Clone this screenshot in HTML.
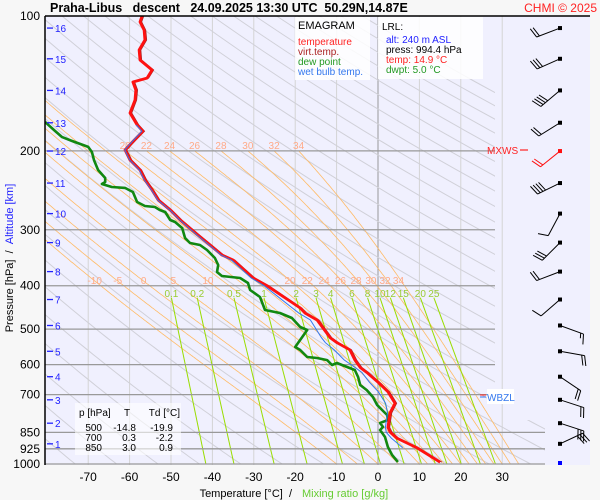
<!DOCTYPE html>
<html><head><meta charset="utf-8"><style>
body{margin:0;background:#f7f7f7;}
svg{display:block;font-family:"Liberation Sans",sans-serif;}
</style></head><body>
<svg id="c" width="600" height="500" viewBox="0 0 600 500">
<defs>
<clipPath id="plotClip"><path d="M45 16 H495 V420 H545 V465 H45 Z"/></clipPath>
<clipPath id="plotClip2"><rect x="45" y="16" width="500" height="449"/></clipPath>
</defs>
<rect x="45" y="16" width="545" height="449" fill="#f0f0fe"/>
<g id="grid"></g>
<g id="series"></g>
<g id="barbs"></g>
<line x1="45" y1="16" x2="45" y2="465" stroke="#000" stroke-width="1.5"/>
<line x1="45" y1="16" x2="590" y2="16" stroke="#000" stroke-width="1.5"/>
<text x="50" y="12" font-size="12.5" font-weight="bold">Praha-Libus&#160;&#160;&#160;descent&#160;&#160;&#160;24.09.2025 13:30 UTC&#160;&#160;50.29N,14.87E</text>
<text x="597" y="12" font-size="12" fill="#ff2222" text-anchor="end">CHMI © 2025</text>
<g>
<rect x="295" y="17" width="75" height="63" fill="#fff" opacity="0.85"/>
<text x="298" y="29" font-size="11">EMAGRAM</text>
<text x="298" y="45" font-size="10" fill="#ff2222">temperature</text>
<text x="298" y="55" font-size="10" fill="#aa2222">virt.temp.</text>
<text x="298" y="65" font-size="10" fill="#229922">dew point</text>
<text x="298" y="75" font-size="10" fill="#3377ee">wet bulb temp.</text>
</g>
<g>
<rect x="378" y="17" width="105" height="62" fill="#fff" opacity="0.85"/>
<text x="382" y="30" font-size="10">LRL:</text>
<text x="386" y="43" font-size="10" fill="#2222ff">alt: 240 m ASL</text>
<text x="386" y="53" font-size="10">press: 994.4 hPa</text>
<text x="386" y="63" font-size="10" fill="#ff2222">temp: 14.9 °C</text>
<text x="386" y="73" font-size="10" fill="#229922">dwpt: 5.0 °C</text>
</g>
<g>
<rect x="75" y="403" width="106" height="52" fill="#fff" opacity="0.6"/>
<text x="79" y="416" font-size="10">p [hPa]</text><text x="127" y="416" font-size="10" text-anchor="middle">T</text><text x="180" y="416" font-size="10" text-anchor="end">Td [°C]</text>
<text x="102" y="431" font-size="10" text-anchor="end">500</text><text x="136" y="431" font-size="10" text-anchor="end">-14.8</text><text x="173" y="431" font-size="10" text-anchor="end">-19.9</text>
<text x="102" y="441" font-size="10" text-anchor="end">700</text><text x="136" y="441" font-size="10" text-anchor="end">0.3</text><text x="173" y="441" font-size="10" text-anchor="end">-2.2</text>
<text x="102" y="451" font-size="10" text-anchor="end">850</text><text x="136" y="451" font-size="10" text-anchor="end">3.0</text><text x="173" y="451" font-size="10" text-anchor="end">0.9</text>
</g>
<text x="487" y="154" font-size="10" fill="#ff2222">MXWS</text>
<line x1="520" y1="150" x2="528" y2="150" stroke="#ff2222" stroke-width="1.2"/>
<g>
<rect x="487" y="389" width="27" height="15" fill="#fff"/>
<line x1="480" y1="395" x2="486" y2="395" stroke="#ff2222"/><line x1="480" y1="397" x2="486" y2="397" stroke="#3377ee"/>
<text x="487" y="401" font-size="10" fill="#3377ee">WBZL</text>
</g>
<text x="13" y="258" font-size="11" text-anchor="middle" transform="rotate(-90 13 258)">Pressure [hPa]&#160;&#160;/&#160;&#160;<tspan fill="#2222ff">Altitude [km]</tspan></text>
<text x="292" y="497" font-size="11" text-anchor="end">Temperature [°C]&#160;&#160;/</text>
<text x="302" y="497" font-size="11" fill="#66cc33">Mixing ratio [g/kg]</text>
<g id="axes"></g>
</svg>
<script>
// ---- data ----
const pressureTicks=[100,200,300,400,500,600,700,850,925,1000];
const tempTicks=[-70,-60,-50,-40,-30,-20,-10,0,10,20,30];
const altKm=[16,15,14,13,12,11,10,9,8,7,6,5,4,3,2,1];
const altP=[106.4,124.6,146.6,173.1,200.2,236,276.1,320.5,372,429.4,490.7,560.3,638.5,719,810.8,901.5];
const mixRatios=[0.1,0.2,0.5,1,2,3,4,6,8,10,12,15,20,25];
const thetaW=[-10,-5,0,5,10,12,14,16,18,20,22,24,26,28,30,32,34];
const thetaWLabels400=[-10,-5,0,5,10,20,22,24,26,28,30,32,34];
const thetaWLabels200=[20,22,24,26,28,30,32,34];
const tempP=[100,103.1,107.5,113.1,119.1,125.4,132,137.6,140.4,146.3,154,164.6,175,180.8,189.2,199,209.6,220.7,232.3,244.6,257.5,271,285.3,308.3,324.5,341.6,350.5,384.2,400,448.6,460.7,477,522.3,536,556,585.5,609,624.7,656.6,690,732,769,828,850,876,920,991];
const tempT=[-57,-57.5,-56.5,-56.3,-57.7,-57.5,-54.6,-55.8,-59.2,-58.5,-58.7,-59.9,-58.2,-56.8,-58.9,-61.1,-59.9,-57.5,-56.3,-54.6,-53.1,-50.2,-47.8,-43.5,-40.6,-37.7,-35,-30.2,-26.8,-18.8,-17.6,-14.7,-11.6,-9.9,-6.8,-5.6,-4.3,-2.7,0,2.4,4.1,2.9,2.4,3,4.6,9.4,15];
const dewP=[172.4,180.6,186.3,190.1,196,201.2,209.7,220.7,229.9,234.7,237.1,240.8,242,247.1,253.5,260.1,265.5,266.9,271,273.9,285.4,288.3,297.4,313.1,321.2,324.5,332.9,346.9,359.6,372.8,380.5,384.5,394.5,408.9,423.9,453.1,460.2,472.2,494.6,502.2,548,556.7,577.1,580.1,586.1,601.2,595,601.2,617,639.6,666.4,683.9,708.9,738.7,757.8,777.5,797.7,810.2,827,839.8,870.5,916.2,954.7,989.7];
const dewT=[-80.4,-78,-76.3,-73.9,-70,-69.1,-68.6,-67.6,-65.9,-65.9,-66.7,-64.3,-61.1,-59.2,-58.7,-58.2,-56.3,-53.9,-52.7,-51.4,-50.2,-49,-47.3,-46.6,-45.4,-43,-41.3,-39.4,-38.6,-38.9,-37.7,-33.3,-31.4,-30.9,-28.5,-27.3,-23.7,-20.8,-18.8,-17.1,-20,-18.8,-17.1,-14.7,-12.3,-11.1,-9.9,-8.7,-5.6,-4.8,-4.3,-2.7,-1.2,-0.2,1,2.2,2.4,0.5,1.2,0.5,1.7,2.4,3.4,4.8];
const windDir=[249,246,230,238,231,244,208,225,249,229,110,100,124,108,108,65];
const windKt=[20,30,40,20,20,40,10,30,20,10,15,20,20,20,30,30];

// ---- scales ----
const X0=378,KX=4.14;
function xT(t){return X0+KX*t;}
function yP(p){return 16+448*Math.log10(p/100);}
const NS='http://www.w3.org/2000/svg';
function mk(tag,attrs,parent){const e=document.createElementNS(NS,tag);for(const k in attrs)e.setAttribute(k,attrs[k]);parent.appendChild(e);return e;}
const grid=document.getElementById('grid'),series=document.getElementById('series'),axes=document.getElementById('axes'),barbs=document.getElementById('barbs');
function es(T){return 6.112*Math.exp(17.67*T/(T+243.5));}
function ws(T,p){const e=es(T);return 0.622*e/(p-e);}

tempTicks.forEach(t=>{
  const l=mk('line',{x1:xT(t),x2:xT(t),y1:16,y2:465,stroke:t===0?'#999':'#d4d4d4','stroke-width':1},grid);
  
  
  const tx=mk('text',{x:xT(t),y:481,'font-size':12,'text-anchor':'middle'},axes);tx.textContent=t;
  
  
});
const gDry=mk('g',{'clip-path':'url(#plotClip)'},grid);


for(let th=190;th<=520;th+=10){
  let d='';for(let p=1000;p>=100;p-=10){const T=th*Math.pow(p/1000,0.2857)-273.15;d+=(d?'L':'M')+xT(T).toFixed(1)+' '+yP(p).toFixed(1);}
  mk('path',{d:d,fill:'none',stroke:'#d0d0d8','stroke-width':1},gDry);
}
const gMoist=mk('g',{'clip-path':'url(#plotClip)'},grid);


function moist(tw){const pts=[];let T=tw+273.15;const pEnd=tw>=20?200:100;for(let p=1000;p>=pEnd;p-=2){pts.push([p,T-273.15]);const w=ws(T-273.15,p);const dTdp=(287*T+2.5e6*w)/(p*(1005+2.5e6*2.5e6*w*0.622/(287*T*T)));T-=dTdp*2;}return pts;}
function atP(pts,p){for(const q of pts){if(q[0]<=p)return q[1];}return pts[pts.length-1][1];}
const moistCurves={};
thetaW.forEach(tw=>{const pts=moist(tw);moistCurves[tw]=pts;
  mk('path',{d:pts.map((q,i)=>(i?'L':'M')+xT(q[1]).toFixed(1)+' '+yP(q[0]).toFixed(1)).join(''),fill:'none',stroke:'#ffbb66','stroke-width':0.8},gMoist);});
thetaWLabels400.forEach(tw=>{const t=mk('text',{x:xT(atP(moistCurves[tw],400))-6,y:284,'font-size':10,fill:'#ffaa88','text-anchor':'middle'},grid);t.textContent=tw;
  
  });
thetaWLabels200.forEach(tw=>{const t=mk('text',{x:xT(atP(moistCurves[tw],200)),y:149,'font-size':10,fill:'#ffaa88','text-anchor':'middle'},grid);t.textContent=tw;
  
  });
function tdW(w,p){const e=w*p/(622+w);const l=Math.log(e/6.112);return 243.5*l/(17.67-l);}
mixRatios.forEach(w=>{
  const l=mk('line',{x1:xT(tdW(w,400)),y1:yP(400)+12,x2:xT(tdW(w,1000)),y2:yP(1000),stroke:'#99dd00','stroke-width':1},grid);
  
  
  const t=mk('text',{x:xT(tdW(w,400)),y:297,'font-size':10,fill:'#99cc33','text-anchor':'middle'},grid);t.textContent=w;
  
  
});
pressureTicks.forEach(p=>{
  if(p>100){const l=mk('line',{x1:45,x2:p>=850?545:495,y1:yP(p),y2:yP(p),stroke:'#999','stroke-width':1.3},grid);
  
  }
  const t=mk('text',{x:40,y:yP(p)+4,'font-size':12,'text-anchor':'end'},axes);t.textContent=p;
  
  
});
altKm.forEach((k,i)=>{const y=yP(altP[i]);
  mk('line',{x1:47,x2:53,y1:y,y2:y,stroke:'#2222ff','stroke-width':1.3},axes);
  const t=mk('text',{x:55,y:y+4,'font-size':10,fill:'#2222ff'},axes);t.textContent=k;
  
  });
function pathOf(P,T){return P.map((p,i)=>(i?'L':'M')+xT(T[i]).toFixed(1)+' '+yP(p).toFixed(1)).join('');}
const gS=mk('g',{'clip-path':'url(#plotClip2)'},series);
function tdAt(p){for(let i=0;i<dewP.length-1;i++){const a=dewP[i],b=dewP[i+1];if((p>=a&&p<=b)||(p<=a&&p>=b)){const f=(Math.log(p)-Math.log(a))/(Math.log(b)-Math.log(a)||1);return dewT[i]+f*(dewT[i+1]-dewT[i]);}}return null;}
const wbP=[],wbT=[];
tempP.forEach((p,i)=>{const td=tdAt(p);const T=tempT[i];if(td===null)return;const w=ws(td,p);let lo=Math.min(td,T),hi=T;
  for(let k=0;k<40;k++){const m=(lo+hi)/2;const f=1005*(T-m)-2.5e6*(ws(m,p)-w);if(f>0)lo=m;else hi=m;}wbP.push(p);wbT.push((lo+hi)/2);});
const dew=mk('path',{d:pathOf(dewP,dewT),fill:'none',stroke:'#118811','stroke-width':2.6,'stroke-linejoin':'round'},gS);


const vt=mk('path',{d:pathOf(tempP,tempT.map(t=>t+0.4)),fill:'none',stroke:'#aa2222','stroke-width':1},gS);


const tl=mk('path',{d:pathOf(tempP,tempT),fill:'none',stroke:'#ff1111','stroke-width':2.8,'stroke-linejoin':'round'},gS);


const wb=mk('path',{d:pathOf(wbP,wbT),fill:'none',stroke:'#3377ee','stroke-width':1},gS);


altKm.forEach((k,i)=>{const y=yP(altP[i]),x=560;const a=windDir[i]*Math.PI/180;const sx=Math.sin(a),sy=-Math.cos(a);const L=25;
  const col=k===12?'#ff1111':'#000';
  const g=mk('g',{},barbs);
  
  
  const ex=x+sx*L,ey=y+sy*L;
  mk('line',{x1:x,y1:y,x2:ex,y2:ey,stroke:col,'stroke-width':1},g);
  mk('rect',{x:x-2,y:y-2,width:4,height:4,fill:col},g);
  let sp=windKt[i],pos=0;const px=-sy,py=sx;
  while(sp>=5){const full=sp>=10;const bl=full?10:5;const bx=ex-sx*pos*3,by=ey-sy*pos*3;
    mk('line',{x1:bx,y1:by,x2:bx+px*bl+sx*bl*0.3,y2:by+py*bl+sy*bl*0.3,stroke:col,'stroke-width':1},g);sp-=full?10:5;pos++;}
});
const sd=mk('rect',{x:558,y:461,width:4,height:4,fill:'#0000ff'},barbs);


</script>
</body></html>
